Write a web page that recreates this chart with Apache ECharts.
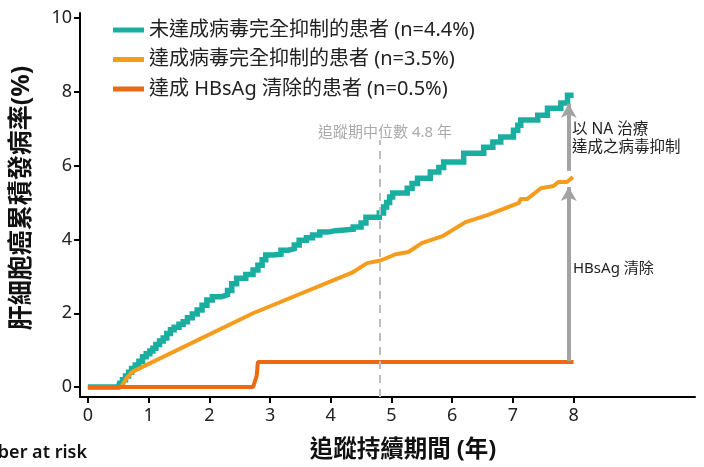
<!DOCTYPE html>
<html>
<head>
<meta charset="utf-8">
<script src="https://cdn.jsdelivr.net/npm/echarts@6/dist/echarts.min.js"></script>
<style>
  html, body { margin: 0; padding: 0; background: #fff; }
  #chart { width: 704px; height: 467px; }
</style>
</head>
<body>
<div id="chart"></div>
<script>
// 圖例名稱
var seriesNames = [
  "未達成病毒完全抑制的患者 (n=4.4%)",
  "達成病毒完全抑制的患者 (n=3.5%)",
  "達成 HBsAg 清除的患者 (n=0.5%)"
];
// 未達成病毒完全抑制 (階梯)
var notSuppressed = [
  [0, 0], [0.5, 0], [0.52, 0.1], [0.57, 0.2], [0.62, 0.3], [0.67, 0.4], [0.72, 0.5],
  [0.78, 0.6], [0.84, 0.7], [0.9, 0.82], [0.96, 0.9], [1.02, 0.98], [1.07, 1.05],
  [1.12, 1.15], [1.18, 1.25], [1.24, 1.33], [1.3, 1.45], [1.36, 1.55], [1.42, 1.62],
  [1.5, 1.7], [1.57, 1.77], [1.64, 1.88], [1.72, 1.98], [1.8, 2.09], [1.88, 2.22],
  [1.96, 2.36], [2.05, 2.45], [2.2, 2.5], [2.3, 2.62], [2.37, 2.8], [2.45, 2.95],
  [2.6, 3.05], [2.72, 3.17], [2.8, 3.3], [2.87, 3.45], [2.93, 3.58], [3.05, 3.6],
  [3.18, 3.71], [3.3, 3.75], [3.4, 3.85], [3.48, 3.98], [3.6, 4.05], [3.7, 4.12],
  [3.82, 4.2], [3.95, 4.24], [4.08, 4.28], [4.37, 4.34], [4.5, 4.45], [4.58, 4.6],
  [4.8, 4.72], [4.87, 4.88], [4.92, 5.0], [4.97, 5.15], [5.02, 5.26], [5.26, 5.39],
  [5.34, 5.52], [5.43, 5.66], [5.64, 5.83], [5.78, 5.95], [5.86, 6.1], [6.19, 6.34],
  [6.52, 6.5], [6.67, 6.64], [6.8, 6.78], [7.01, 6.96], [7.08, 7.1], [7.13, 7.24],
  [7.41, 7.37], [7.57, 7.56], [7.79, 7.7], [7.9, 7.91], [8.0, 7.91]
];
// 達成病毒完全抑制
var suppressed = [
  [0, 0], [0.55, 0], [0.62, 0.2], [0.73, 0.41], [2.72, 2.0], [4.35, 3.1], [4.6, 3.36],
  [4.82, 3.43], [5.07, 3.6], [5.28, 3.66], [5.5, 3.9], [5.84, 4.09], [6.22, 4.47],
  [6.58, 4.66], [7.1, 4.99], [7.13, 5.1], [7.24, 5.1], [7.46, 5.39], [7.67, 5.45],
  [7.75, 5.56], [7.89, 5.56], [7.99, 5.69]
];
// 達成 HBsAg 清除
var hbsagLoss = [
  [0, 0], [2.72, 0], [2.78, 0.3], [2.8, 0.68], [8.0, 0.68]
];
var xTicks = [0, 1, 2, 3, 4, 5, 6, 7, 8];
var yTicks = [0, 2, 4, 6, 8, 10];
var medianFollowUp = 4.8;

var font = "'Noto Sans', 'Noto Sans CJK TC', sans-serif";
var chart = echarts.init(document.getElementById("chart"));

chart.setOption({
  animation: false,
  textStyle: { fontFamily: font },
  color: ["#19ae9f", "#f59c1c", "#ed6a12"],
  legend: {
    orient: "vertical",
    left: 108,
    top: 15,
    itemWidth: 31,
    itemHeight: 5,
    itemGap: 9.5,
    icon: "rect",
    textStyle: { fontSize: 20, color: "#222", fontFamily: font },
    data: seriesNames
  },
  grid: { left: 80, right: 9, top: 13, bottom: 70 },
  xAxis: {
    type: "value",
    min: -0.13,
    max: 10,
    splitLine: { show: false },
    axisLine: { onZero: false, lineStyle: { color: "#000", width: 2 } },
    axisTick: { customValues: xTicks, length: 6, lineStyle: { color: "#000", width: 2 } },
    axisLabel: { customValues: xTicks, fontSize: 18, color: "#222", margin: 10 }
  },
  yAxis: {
    type: "value",
    min: -0.27,
    max: 10.14,
    splitLine: { show: false },
    axisLine: { onZero: false, lineStyle: { color: "#000", width: 2 } },
    axisTick: { customValues: yTicks, length: 6, lineStyle: { color: "#000", width: 2 } },
    axisLabel: { customValues: yTicks, fontSize: 18, color: "#222", margin: 8 }
  },
  series: [
    {
      name: seriesNames[0],
      type: "line",
      step: "end",
      data: notSuppressed,
      symbol: "none",
      showSymbol: false,
      lineStyle: { width: 5.5, cap: "butt", join: "miter" },
      z: 2,
      markLine: {
        silent: true,
        symbol: ["none", "arrow"],
        symbolSize: [12, 14],
        label: { show: false },
        lineStyle: { color: "#a3a3a3", width: 4, type: "solid" },
        data: [
          [{ coord: [7.92, 0.7] }, { coord: [7.92, 5.42] }],
          [{ coord: [7.92, 5.86] }, { coord: [7.92, 7.68] }]
        ]
      }
    },
    {
      name: seriesNames[1],
      type: "line",
      data: suppressed,
      symbol: "none",
      showSymbol: false,
      lineStyle: { width: 4 },
      z: 3,
      markLine: {
        silent: true,
        symbol: "none",
        label: { show: false },
        lineStyle: { color: "#bdbdbd", width: 2, type: [8, 6] },
        data: [[{ coord: [medianFollowUp, -0.27] }, { coord: [medianFollowUp, 6.7] }]]
      }
    },
    {
      name: seriesNames[2],
      type: "line",
      data: hbsagLoss,
      symbol: "none",
      showSymbol: false,
      lineStyle: { width: 4 },
      z: 4
    }
  ],
  graphic: [
    {
      type: "text", x: 385, y: 133,
      style: { text: "追蹤期中位數 4.8 年", fill: "#aaaaaa", fontSize: 15, fontFamily: font,
        textAlign: "center", textVerticalAlign: "middle" }
    },
    {
      type: "text", x: 572, y: 130,
      style: { text: "以 NA 治療", fill: "#222", fontSize: 15.5, fontFamily: font,
        textAlign: "left", textVerticalAlign: "middle" }
    },
    {
      type: "text", x: 572, y: 148,
      style: { text: "達成之病毒抑制", fill: "#222", fontSize: 15.5, fontFamily: font,
        textAlign: "left", textVerticalAlign: "middle" }
    },
    {
      type: "text", x: 573, y: 269,
      style: { text: "HBsAg 清除", fill: "#222", fontSize: 15, fontFamily: font,
        textAlign: "left", textVerticalAlign: "middle" }
    },
    {
      type: "text", x: 403, y: 450,
      style: { text: "追蹤持續期間 (年)", fill: "#111", fontSize: 23.5, fontWeight: "bold",
        fontFamily: font, textAlign: "center", textVerticalAlign: "middle" }
    },
    {
      type: "text", x: 22, y: 198, rotation: Math.PI / 2,
      style: { text: "肝細胞癌累積發病率(%)", fill: "#111", fontSize: 25, fontWeight: "bold",
        fontFamily: font, textAlign: "center", textVerticalAlign: "middle" }
    },
    {
      type: "text", x: 87, y: 453,
      style: { text: "Number at risk", fill: "#111", fontSize: 18, fontWeight: 600,
        fontFamily: font, textAlign: "right", textVerticalAlign: "middle" }
    }
  ]
});
</script>
</body>
</html>
